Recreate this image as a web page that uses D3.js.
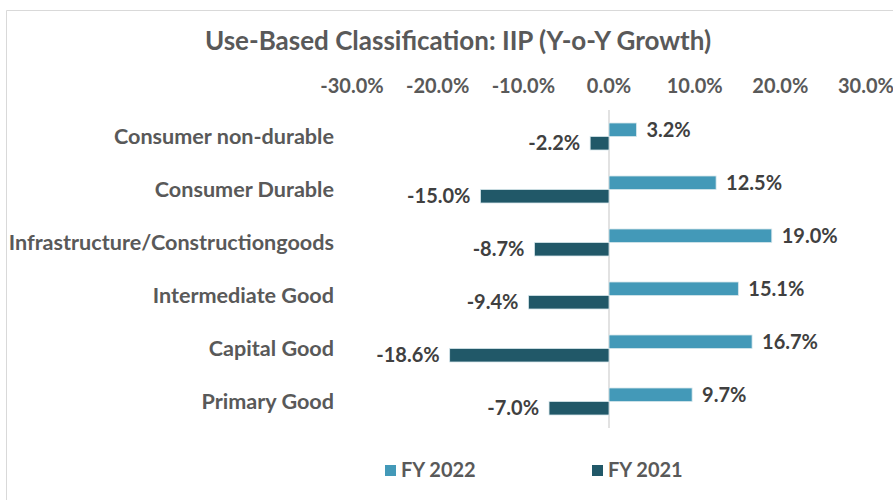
<!DOCTYPE html>
<html>
<head>
<meta charset="utf-8">
<script src="https://cdn.jsdelivr.net/npm/d3@7"></script>
<style>
  body { margin: 0; background: #fff; }
  svg { font-family: Lato, "Open Sans", sans-serif; font-weight: bold; }
</style>
</head>
<body>
<svg id="chart" width="893" height="500"></svg>
<script>
// data
const categories = ["Consumer non-durable", "Consumer Durable", "Infrastructure/Constructiongoods",
  "Intermediate Good", "Capital Good", "Primary Good"];
const fy2022 = [3.2, 12.5, 19.0, 15.1, 16.7, 9.7];
const fy2021 = [-2.2, -15.0, -8.7, -9.4, -18.6, -7.0];
const tickValues = [-30, -20, -10, 0, 10, 20, 30];
const seriesNames = ["FY 2022", "FY 2021"];
const colors = ["#4399b8", "#215868"];

const svg = d3.select("#chart");

// outer chart frame (only top + left edges visible)
svg.append("path")
  .attr("d", "M6.5,500 V10.5 H893")
  .attr("fill", "none")
  .attr("stroke", "#d9d9d9");

svg.append("text")
  .attr("x", 458).attr("y", 50)
  .attr("text-anchor", "middle")
  .attr("fill", "#595959")
  .style("font-size", "26px")
  .text("Use-Based Classification: IIP (Y-o-Y Growth)");

const x = d3.scaleLinear().domain([-30, 30]).range([352, 866]);
const y = d3.scaleBand().domain(categories).range([110, 428]).padding(0);
const barH = 13.5;

// tick labels at top
svg.append("g")
  .selectAll("text")
  .data(tickValues)
  .join("text")
  .attr("x", d => x(d))
  .attr("y", 93)
  .attr("text-anchor", "middle")
  .attr("fill", "#595959")
  .style("font-size", "20px")
  .text(d => d.toFixed(1) + "%");

// zero line
svg.append("line")
  .attr("x1", x(0)).attr("x2", x(0))
  .attr("y1", 110).attr("y2", 428)
  .attr("stroke", "#d9d9d9")
  .attr("stroke-width", 1.5);

// category labels
svg.append("g")
  .selectAll("text")
  .data(categories)
  .join("text")
  .attr("x", 334)
  .attr("y", d => y(d) + y.bandwidth() / 2 + 7)
  .attr("text-anchor", "end")
  .attr("fill", "#595959")
  .style("font-size", "21.6px")
  .text(d => d);

// bars + value labels
const series = [fy2022, fy2021];
series.forEach((vals, s) => {
  const g = svg.append("g");
  g.selectAll("rect")
    .data(vals)
    .join("rect")
    .attr("x", d => x(Math.min(0, d)))
    .attr("width", d => Math.abs(x(d) - x(0)))
    .attr("y", (d, i) => y(categories[i]) + y.bandwidth() / 2 - barH + s * barH)
    .attr("height", barH)
    .attr("fill", colors[s])
    .attr("stroke", "#d6e6ec")
    .attr("stroke-width", 0.8);

  g.selectAll("text")
    .data(vals)
    .join("text")
    .attr("x", d => d >= 0 ? x(d) + 10 : x(d) - 10)
    .attr("y", (d, i) => y(categories[i]) + y.bandwidth() / 2 - barH + s * barH + barH / 2 + 7)
    .attr("text-anchor", d => d >= 0 ? "start" : "end")
    .attr("fill", "#404040")
    .style("font-size", "20px")
    .text(d => d.toFixed(1) + "%");
});

// legend
const legendX = [385, 592];
const legend = svg.append("g")
  .selectAll("g")
  .data(seriesNames)
  .join("g")
  .attr("transform", (d, i) => `translate(${legendX[i]},465)`);
legend.append("rect")
  .attr("width", 11).attr("height", 11)
  .attr("fill", (d, i) => colors[i]);
legend.append("text")
  .attr("x", 16).attr("y", 12)
  .attr("fill", "#595959")
  .style("font-size", "20px")
  .text(d => d);
</script>
</body>
</html>
